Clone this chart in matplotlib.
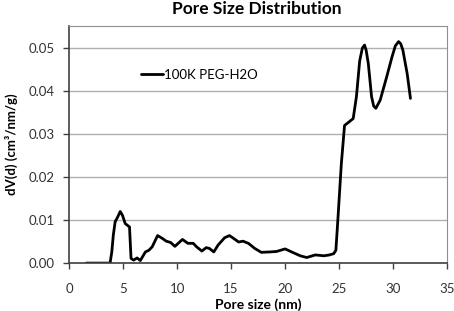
import numpy as np
import matplotlib
matplotlib.use("Agg")
import matplotlib.pyplot as plt

plt.rcParams['font.family'] = ['Lato', 'DejaVu Sans']

# pore size (nm) and dV(d) (cm3/nm/g)
pore_size = [1.6, 2.5, 3.8, 3.96, 4.1, 4.27, 4.5, 4.74, 4.95, 5.2, 5.6, 5.74, 5.98,
             6.3, 6.6, 7.07, 7.4, 7.7, 8.2, 8.6, 9.0, 9.4, 9.8, 10.5, 11.0, 11.5,
             11.8, 12.3, 12.7, 13.0, 13.4, 13.8, 14.4, 14.85, 15.2, 15.7, 16.1,
             16.6, 17.2, 17.8, 18.6, 19.2, 20.0, 20.6, 21.4, 22.0, 22.8, 23.6,
             24.1, 24.5, 24.7, 24.9, 25.2, 25.5, 26.3, 26.6, 26.9, 27.15, 27.35,
             27.5, 27.7, 28.0, 28.2, 28.4, 28.8, 29.4, 29.9, 30.2, 30.5, 30.7,
             30.9, 31.3, 31.6]
dv = [0.0, 0.0, 0.0, 0.0026, 0.0065, 0.0096, 0.0107, 0.0120, 0.0111, 0.0092, 0.0084,
      0.0011, 0.0007, 0.0012, 0.0006, 0.0026, 0.0030, 0.0038, 0.0064, 0.0058,
      0.0051, 0.0048, 0.0039, 0.0055, 0.0046, 0.0046, 0.0038, 0.0028, 0.0036,
      0.0034, 0.0026, 0.0042, 0.0059, 0.0064, 0.0058, 0.0049, 0.0051, 0.0046,
      0.0034, 0.0025, 0.0026, 0.0027, 0.0033, 0.0026, 0.0017, 0.0013, 0.0019,
      0.0017, 0.0019, 0.0022, 0.0030, 0.0108, 0.0230, 0.0320, 0.0336, 0.0387,
      0.0470, 0.0500, 0.0507, 0.0495, 0.0464, 0.0387, 0.0365, 0.0360, 0.0379,
      0.0433, 0.0480, 0.0505, 0.0515, 0.0510, 0.0495, 0.0440, 0.0383]

x_ticks = [0, 5, 10, 15, 20, 25, 30, 35]
y_ticks = [0.00, 0.01, 0.02, 0.03, 0.04, 0.05]

fig = plt.figure(figsize=(4.54, 3.11), dpi=100)
ax = fig.add_axes([0.152, 0.154, 0.833, 0.762])

ax.plot(pore_size, dv, color='black', lw=2.0, label='100K PEG-H2O',
        solid_joinstyle='round', solid_capstyle='round')

ax.set_xlim(0, 35)
ax.set_ylim(0, 0.0551)
ax.set_xticks(x_ticks)
ax.set_yticks(y_ticks)
ax.set_yticklabels(['%.2f' % v for v in y_ticks])
ax.yaxis.grid(True, color='#b0b0b0', lw=1.0)
ax.set_axisbelow(True)

for s in ['top', 'right']:
    ax.spines[s].set_color('#909090')
    ax.spines[s].set_linewidth(0.8)
for s in ['left', 'bottom']:
    ax.spines[s].set_color('#404040')
    ax.spines[s].set_linewidth(1.2)
ax.tick_params(axis='both', direction='out', length=4, width=1.0,
               color='#404040', labelsize=9.5, labelcolor='#333333', pad=6)
ax.tick_params(axis='x', pad=10)

ax.set_xlabel('Pore size (nm)', fontsize=10, fontweight='bold', labelpad=3)
ax.set_ylabel('dV(d) (cm³/nm/g)', fontsize=9.5, fontweight='bold', labelpad=8)
fig.text(0.565, 0.997, 'Pore Size Distribution', ha='center', va='top',
         fontsize=12.5, fontweight='bold')

ax.legend(loc='upper left', bbox_to_anchor=(0.16, 0.87), frameon=False,
          fontsize=9.5, handlelength=1.6, handletextpad=0.1)

fig.savefig('out.png', dpi=100)
